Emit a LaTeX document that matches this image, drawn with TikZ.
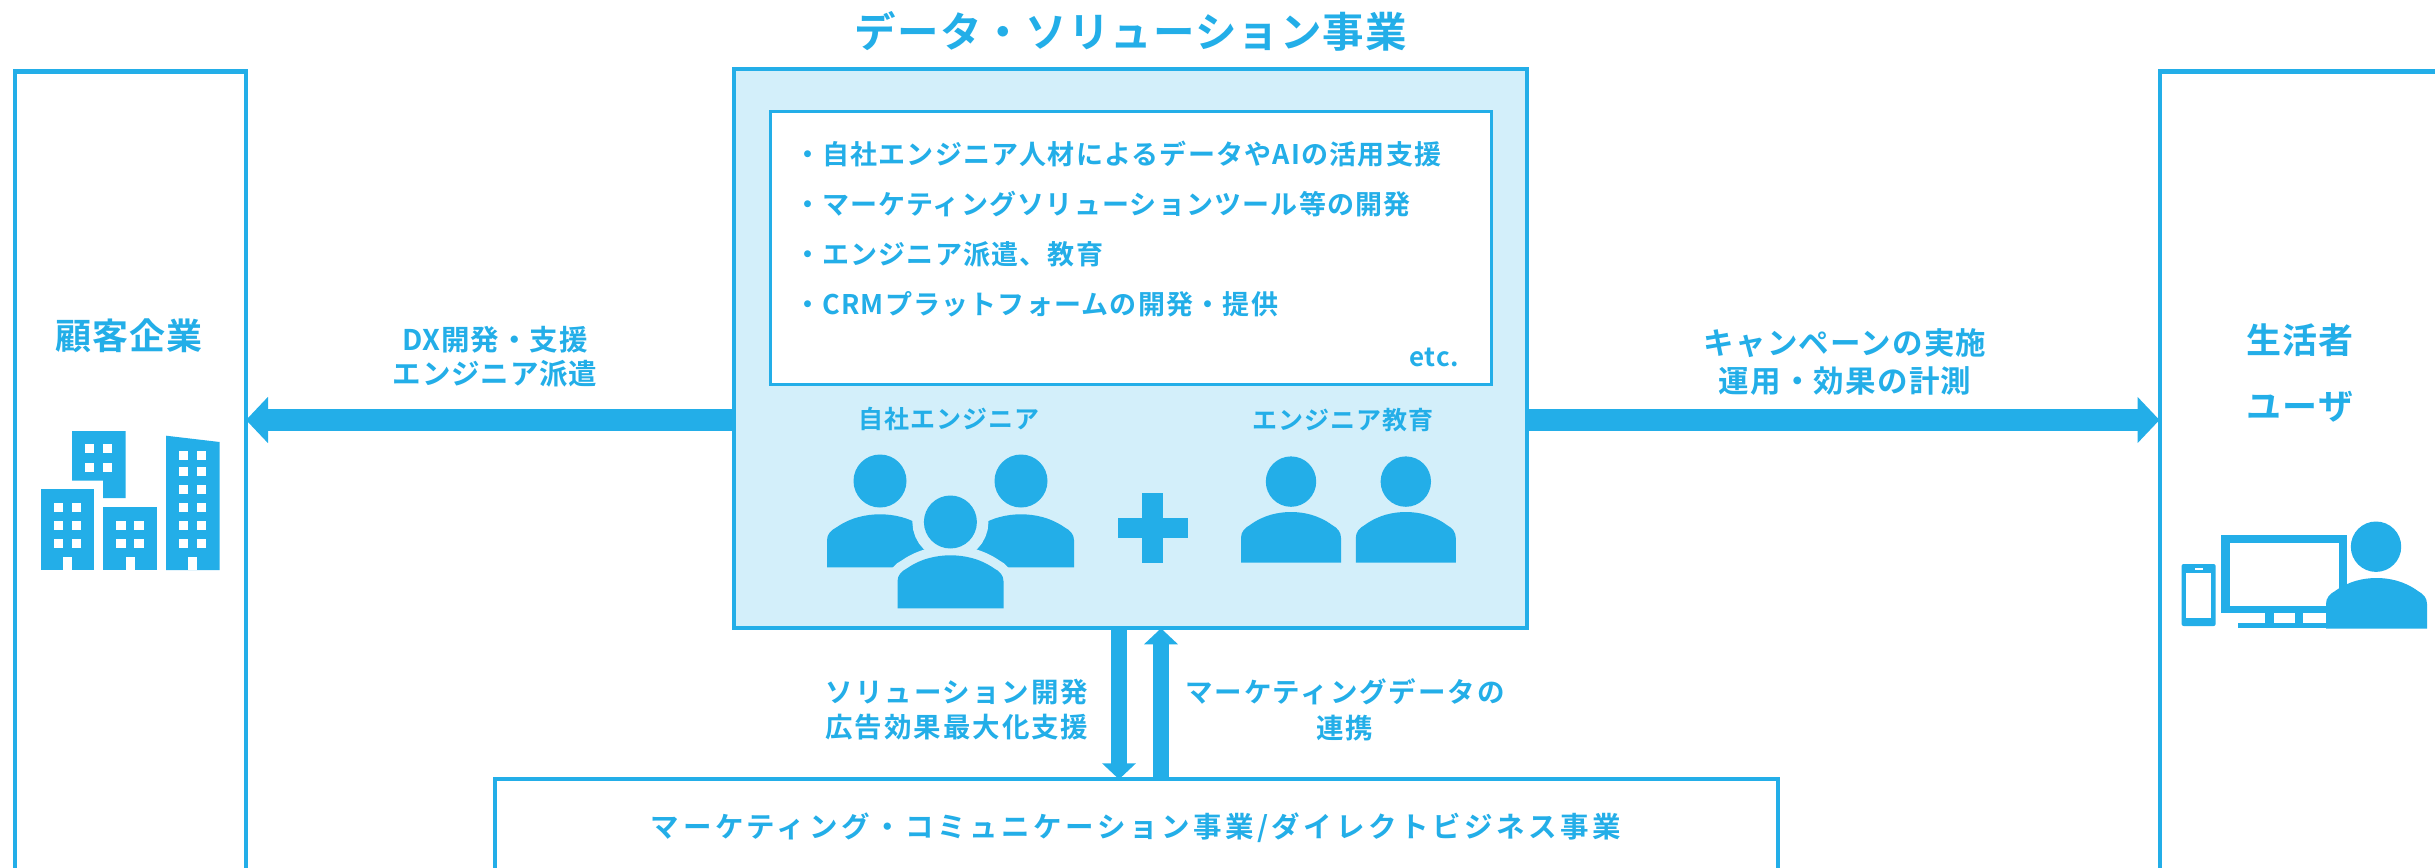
\documentclass[tikz,border=0pt]{standalone}
\usepackage{fontspec}
\setmainfont[BoldFont=Noto Sans CJK JP Bold]{Noto Sans CJK JP}
\usetikzlibrary{%
    arrows.meta,
    positioning
}
\definecolor{skyblue}{HTML}{23AEE8}
\definecolor{paleblue}{HTML}{D3EFFA}
\tikzset{
    panel/.style = {draw=skyblue, line width=4pt, fill=white, inner sep=0pt, outer sep=0pt},
    jptext/.style n args = {3}{text=skyblue, inner sep=0pt, outer sep=0pt,
        font=\bfseries\fontsize{#1}{#2}\selectfont\addfontfeature{LetterSpace=#3}},
    headarrow/.style = {draw=skyblue, line width=#1, -{Triangle[length=22pt,width=45pt]}},
    smallarrow/.style = {draw=skyblue, line width=16pt, -{Triangle[length=16pt,width=33pt]}}
}
\newcommand{\bodypath}[4]{(#1-#2,#4) -- (#1-#2,#3+26)
    .. controls (#1-#2,#3+20) and ({#1-0.93*#2},#3+16) .. ({#1-0.82*#2},#3+13)
    .. controls ({#1-0.55*#2},#3+3) and ({#1-0.25*#2},#3) .. (#1,#3)
    .. controls ({#1+0.25*#2},#3) and ({#1+0.55*#2},#3+3) .. ({#1+0.82*#2},#3+13)
    .. controls ({#1+0.93*#2},#3+16) and (#1+#2,#3+20) .. (#1+#2,#3+26)
    -- (#1+#2,#4) -- cycle}

\begin{document}
\begin{tikzpicture}[x=1pt,y=-1pt]
    \path[use as bounding box, clip] (0,0) rectangle (2435,867);

    \node (client) [panel, minimum width=231.5pt, minimum height=848.5pt] at (130.25,495.75) {};
    \node (user) [panel, minimum width=340.5pt, minimum height=848.5pt] at (2329.75,495.75) {};
    \node (marcom) [panel, minimum width=1282.6pt, minimum height=140.7pt] at (1136.3,849.65) {};
    \node (data) [panel, fill=paleblue, minimum width=793pt, minimum height=559pt] at (1130.5,348.8) {};
    \node (detail) [panel, line width=3pt, minimum width=721pt, minimum height=273.5pt] at (1130.5,247.75) {};

    \coordinate (midrow) at (1131,420);
    \coordinate (downcol) at (1119,700);
    \coordinate (upcol) at (1161,700);

    \draw[headarrow=22pt] (data.west |- midrow) -- (client.east |- midrow);
    \draw[headarrow=22pt] (data.east |- midrow) -- (user.west |- midrow);
    \draw[smallarrow] (data.south -| downcol) -- (marcom.north -| downcol);
    \draw[smallarrow] (marcom.north -| upcol) -- (data.south -| upcol);

    \node (title) [jptext={41.5}{48}{2.7}] at (1131,31) {データ・ソリューション事業};
    \node (items) [jptext={27}{50.3}{4.5}, align=left, anchor=west] at (794,229) {%
        ・自社エンジニア人材によるデータやAIの活用支援\\
        ・マーケティングソリューションツール等の開発\\
        ・エンジニア派遣、教育\\
        ・CRMプラットフォームの開発・提供};
    \node (etc) [jptext={26}{30}{3}, anchor=east] at (1459,357) {etc.};
    \node (own) [jptext={25}{30}{4}] at (949,419) {自社エンジニア};
    \node (edu) [jptext={25}{30}{4}] at (1342.5,420) {エンジニア教育};
    \node (clientname) [jptext={36}{40}{3}] at (129,336) {顧客企業};
    \node (username) [jptext={35}{66.7}{3}, align=center] at (2300,373) {生活者\\ユーザ};
    \node (dxlabel) [jptext={28.5}{34}{3}, align=center] at (495,357) {DX開発・支援\\エンジニア派遣};
    \node (camplabel) [jptext={30.5}{38}{4}, align=center] at (1845,362) {キャンペーンの実施\\運用・効果の計測};
    \node (sollabel) [jptext={27.5}{35.5}{7}, align=center] at (957,709.5) {ソリューション開発\\広告効果最大化支援};
    \node (mktlabel) [jptext={27.5}{36}{7}, align=center] at (1345,710) {マーケティングデータの\\連携};
    \node (marcomname) [jptext={28.5}{32}{12.5}] at (1136,828) {マーケティング・コミュニケーション事業/ダイレクトビジネス事業};

    % buildings
    \fill[skyblue] (72,431) -- (125.5,431) -- (125.5,498) -- (103,498) -- (103,480.5) -- (72,480.5) -- cycle;
    \fill[skyblue] (40.7,489) rectangle (94,570);
    \fill[skyblue] (103,507) rectangle (157,570);
    \fill[skyblue] (166,435.7) -- (219.6,442) -- (219.6,570) -- (166,570) -- cycle;
    \foreach \wx/\wy in {85/444,103/444,85/462.5,103/462.5,
            54/503,72/503,54/521,72/521,54/539,72/539,
            116.3/521,134.3/521,116.3/539,134.3/539,
            179/451,197/451,179/467,197/467,179/485,197/485,
            179/503,197/503,179/521,197/521,179/539,197/539}
        \fill[white] (\wx,\wy) rectangle ++(9.2,9.4);
    \foreach \wx in {63,125.5,188}
        \fill[white] (\wx,556.5) rectangle ++(9,13.5);

    % own engineers
    \fill[skyblue] (880,481) circle (26.5);
    \fill[skyblue] (1021,481) circle (26.5);
    \fill[skyblue] \bodypath{880}{53}{514.3}{567.3};
    \fill[skyblue] \bodypath{1021}{53}{514.3}{567.3};
    \draw[paleblue, line width=23pt] (950.4,522) circle (26.5);
    \draw[paleblue, line width=19pt] \bodypath{950.5}{53}{555.3}{608.3};
    \fill[skyblue] (950.4,522) circle (26.5);
    \fill[skyblue] \bodypath{950.5}{53}{555.3}{608.3};

    % plus
    \fill[skyblue] (1142,492.6) rectangle (1163,562.5);
    \fill[skyblue] (1117.8,518) rectangle (1187.7,537.5);

    % trainees
    \foreach \px in {1291,1405.8} {
        \fill[skyblue] (\px,481.6) circle (25.2);
        \fill[skyblue] \bodypath{\px}{50}{512}{562.5};
    }

    % phone and monitor
    \fill[skyblue, rounded corners=2pt] (2181.6,564) rectangle (2215.6,626);
    \fill[white] (2186,573) rectangle (2211,617.5);
    \fill[white] (2194.7,567.5) rectangle (2203,570);
    \fill[skyblue] (2221,535) rectangle (2347,613.3);
    \fill[white] (2230,543) rectangle (2339,606);
    \fill[skyblue] (2265,613) rectangle (2273.5,623);
    \fill[skyblue] (2295,613) rectangle (2303,623);
    \fill[skyblue] (2237.6,623) rectangle (2326,628);
    \fill[skyblue] (2376,546.7) circle (25.2);
    \fill[skyblue] \bodypath{2376.5}{50.5}{578}{628.6};
\end{tikzpicture}
\end{document}
